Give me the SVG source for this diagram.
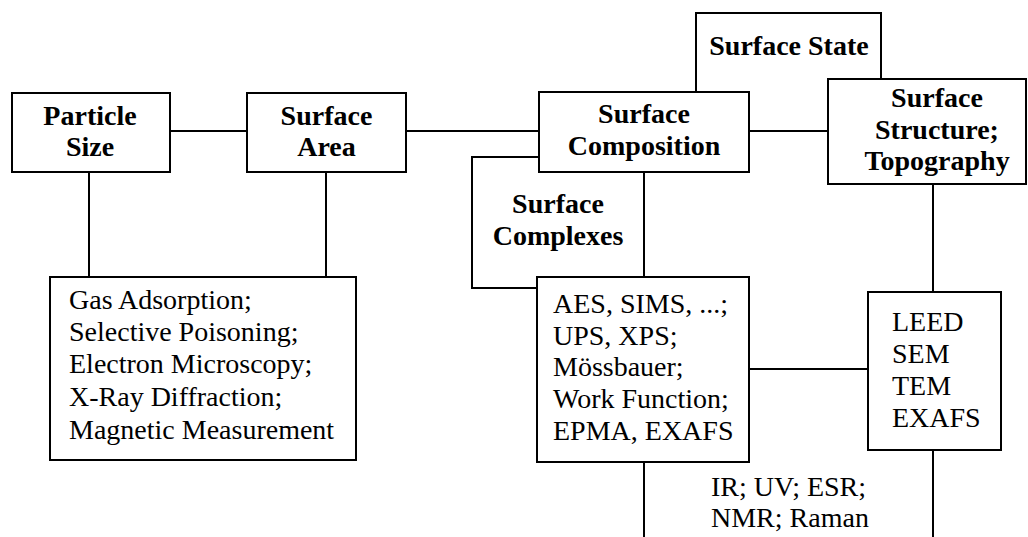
<svg xmlns="http://www.w3.org/2000/svg" width="1028" height="537" viewBox="0 0 1028 537">
  <rect x="0" y="0" width="1028" height="537" fill="#ffffff"/>

  <!-- connectors -->
  <g id="connectors" fill="none" stroke="#000000" stroke-width="2">
    <line x1="170" y1="131" x2="247" y2="131"/>
    <line x1="406" y1="131" x2="539" y2="131"/>
    <line x1="749" y1="131" x2="828" y2="131"/>
    <line x1="89" y1="172" x2="89" y2="277"/>
    <line x1="326" y1="172" x2="326" y2="277"/>
    <line x1="644" y1="172" x2="644" y2="277"/>
    <line x1="933" y1="184" x2="933" y2="292"/>
    <line x1="749" y1="369" x2="868" y2="369"/>
    <line x1="644" y1="462" x2="644" y2="537"/>
    <line x1="933" y1="450" x2="933" y2="537"/>
  </g>

  <!-- back boxes, partly covered -->
  <g id="surface-state">
    <rect fill="#ffffff" stroke="#000000" stroke-width="2" x="696" y="13" width="185" height="118"/>
    <text font-family="Times New Roman, Liberation Serif, serif" font-size="28" font-weight="bold" text-anchor="middle" x="789" y="55">Surface State</text>
  </g>
  <g id="surface-complexes">
    <rect fill="#ffffff" stroke="#000000" stroke-width="2" x="472" y="157" width="172" height="131"/>
    <text font-family="Times New Roman, Liberation Serif, serif" font-size="28" font-weight="bold" text-anchor="middle" x="558" y="213">Surface</text>
    <text font-family="Times New Roman, Liberation Serif, serif" font-size="28" font-weight="bold" text-anchor="middle" x="558" y="245">Complexes</text>
  </g>

  <!-- property boxes -->
  <g id="particle-size">
    <rect fill="#ffffff" stroke="#000000" stroke-width="2" x="12" y="93" width="158" height="79"/>
    <text font-family="Times New Roman, Liberation Serif, serif" font-size="28" font-weight="bold" text-anchor="middle" x="90" y="125">Particle</text>
    <text font-family="Times New Roman, Liberation Serif, serif" font-size="28" font-weight="bold" text-anchor="middle" x="90" y="156">Size</text>
  </g>
  <g id="surface-area">
    <rect fill="#ffffff" stroke="#000000" stroke-width="2" x="247" y="93" width="159" height="79"/>
    <text font-family="Times New Roman, Liberation Serif, serif" font-size="28" font-weight="bold" text-anchor="middle" x="326.5" y="125">Surface</text>
    <text font-family="Times New Roman, Liberation Serif, serif" font-size="28" font-weight="bold" text-anchor="middle" x="326.5" y="156">Area</text>
  </g>
  <g id="surface-composition">
    <rect fill="#ffffff" stroke="#000000" stroke-width="2" x="539" y="92" width="210" height="80"/>
    <text font-family="Times New Roman, Liberation Serif, serif" font-size="28" font-weight="bold" text-anchor="middle" x="644" y="123">Surface</text>
    <text font-family="Times New Roman, Liberation Serif, serif" font-size="28" font-weight="bold" text-anchor="middle" x="644" y="155">Composition</text>
  </g>
  <g id="surface-structure">
    <rect fill="#ffffff" stroke="#000000" stroke-width="2" x="828" y="79" width="198" height="105"/>
    <text font-family="Times New Roman, Liberation Serif, serif" font-size="28" font-weight="bold" text-anchor="middle" x="937" y="107">Surface</text>
    <text font-family="Times New Roman, Liberation Serif, serif" font-size="28" font-weight="bold" text-anchor="middle" x="937" y="139">Structure;</text>
    <text font-family="Times New Roman, Liberation Serif, serif" font-size="28" font-weight="bold" text-anchor="middle" x="937" y="170">Topography</text>
  </g>

  <!-- method boxes -->
  <g id="bulk-methods">
    <rect fill="#ffffff" stroke="#000000" stroke-width="2" x="50" y="277" width="306" height="183"/>
    <text font-family="Times New Roman, Liberation Serif, serif" font-size="28" x="69" y="309">Gas Adsorption;</text>
    <text font-family="Times New Roman, Liberation Serif, serif" font-size="28" x="69" y="341">Selective Poisoning;</text>
    <text font-family="Times New Roman, Liberation Serif, serif" font-size="28" x="69" y="373">Electron Microscopy;</text>
    <text font-family="Times New Roman, Liberation Serif, serif" font-size="28" x="69" y="406">X-Ray Diffraction;</text>
    <text font-family="Times New Roman, Liberation Serif, serif" font-size="28" x="69" y="439">Magnetic Measurement</text>
  </g>
  <g id="composition-methods">
    <rect fill="#ffffff" stroke="#000000" stroke-width="2" x="537" y="277" width="212" height="185"/>
    <text font-family="Times New Roman, Liberation Serif, serif" font-size="28" x="553" y="313">AES, SIMS, ...;</text>
    <text font-family="Times New Roman, Liberation Serif, serif" font-size="28" x="553" y="345">UPS, XPS;</text>
    <text font-family="Times New Roman, Liberation Serif, serif" font-size="28" x="553" y="376">Mössbauer;</text>
    <text font-family="Times New Roman, Liberation Serif, serif" font-size="28" x="553" y="408">Work Function;</text>
    <text font-family="Times New Roman, Liberation Serif, serif" font-size="28" x="553" y="440">EPMA, EXAFS</text>
  </g>
  <g id="structure-methods">
    <rect fill="#ffffff" stroke="#000000" stroke-width="2" x="868" y="292" width="133" height="158"/>
    <text font-family="Times New Roman, Liberation Serif, serif" font-size="28" x="892" y="331">LEED</text>
    <text font-family="Times New Roman, Liberation Serif, serif" font-size="28" x="892" y="363">SEM</text>
    <text font-family="Times New Roman, Liberation Serif, serif" font-size="28" x="892" y="395">TEM</text>
    <text font-family="Times New Roman, Liberation Serif, serif" font-size="28" x="892" y="427">EXAFS</text>
  </g>
  <g id="spectroscopy">
    <text font-family="Times New Roman, Liberation Serif, serif" font-size="28" x="711" y="496">IR; UV; ESR;</text>
    <text font-family="Times New Roman, Liberation Serif, serif" font-size="28" x="711" y="527">NMR; Raman</text>
  </g>
</svg>
